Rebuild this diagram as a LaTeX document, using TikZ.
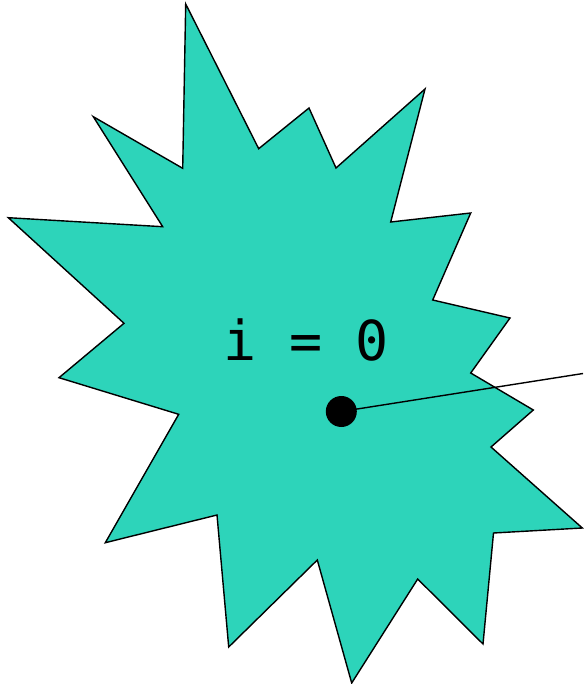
\documentclass[tikz,border=0pt]{standalone}
\usepackage{fontspec}
\newfontfamily\monofont{DejaVu Sans Mono}
\definecolor{burst}{RGB}{45,212,186}
\begin{document}
\begin{tikzpicture}[x=1pt,y=-1pt,
  burststyle/.style={fill=burst,draw=black,line width=1.4pt,line join=miter},
  labelstyle/.style={font=\monofont\fontsize{55}{60}\selectfont,inner sep=0pt},
  dotstyle/.style={circle,fill=black,inner sep=0pt,minimum size=31pt},
  wire/.style={draw=black,line width=1.4pt}]
\useasboundingbox (0,0) rectangle (583,684);
\draw[burststyle] (185.7,4) -- (258.7,148.7) -- (309,108) -- (336,168) -- (425,89)
  -- (390.7,222) -- (470.7,213) -- (432.7,300) -- (510,318) -- (470.7,373)
  -- (533.3,410) -- (491,447) -- (582.3,528) -- (493.5,533) -- (483,644)
  -- (417.7,579) -- (351.7,683) -- (317.3,560) -- (228.7,647) -- (217,515)
  -- (105.3,542.7) -- (178.7,414.3) -- (59,377.7) -- (124,323.3) -- (8.3,217.7)
  -- (162.7,226.7) -- (93.3,116.7) -- (182.7,168.3) -- cycle;
\node[labelstyle] (label) at (306,340) {i = 0};
\node[dotstyle] (dot) at (341.3,411.5) {};
\coordinate (end) at (583,373.5);
\draw[wire] (dot.center) -- (end);
\end{tikzpicture}
\end{document}
